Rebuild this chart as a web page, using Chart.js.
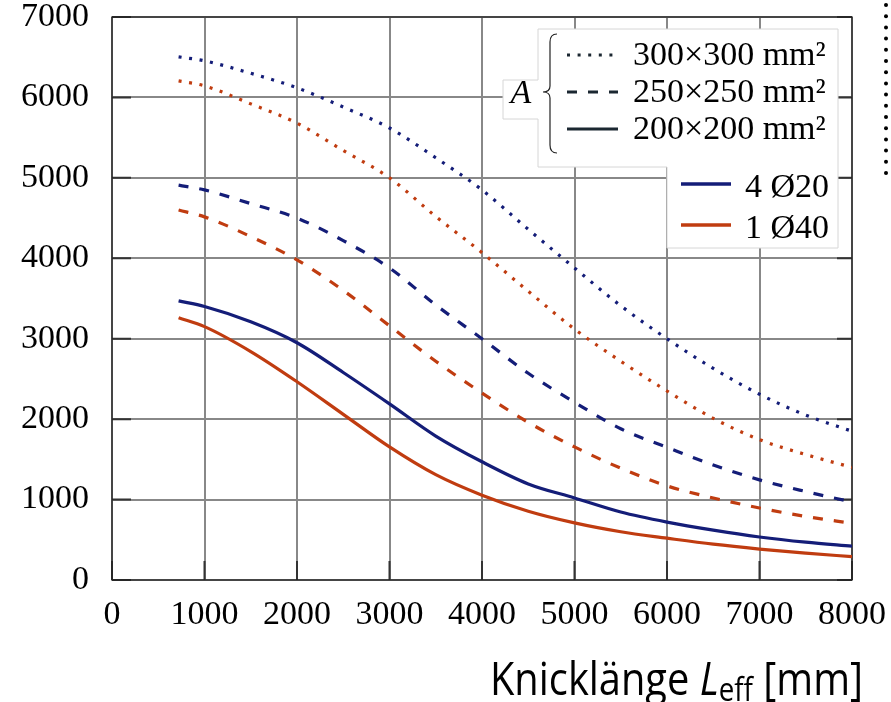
<!DOCTYPE html>
<html>
<head>
<meta charset="utf-8">
<script src="https://cdn.jsdelivr.net/npm/chart.js@4.4.1/dist/chart.umd.min.js"></script>
<style>
  html, body { margin: 0; padding: 0; background: #fff; }
  #wrap { width: 891px; height: 702px; }
</style>
</head>
<body>
<div id="wrap"><canvas id="chart" width="891" height="702"></canvas></div>
<script>
// Knicklänge (x-Achse)
const lengths = [720, 1000, 1500, 2000, 2500, 3000, 3500, 4000, 4500, 5000, 5500, 6000, 6500, 7000, 7500, 8000];

// Querschnitt 300x300
const a300_4d20 = [6505, 6455, 6300, 6120, 5880, 5620, 5250, 4850, 4360, 3880, 3410, 3000, 2630, 2310, 2050, 1850];
const a300_1d40 = [6206, 6144, 5920, 5680, 5340, 5000, 4520, 4070, 3590, 3120, 2720, 2350, 2010, 1745, 1560, 1400];
// Querschnitt 250x250
const a250_4d20 = [4910, 4850, 4680, 4500, 4220, 3880, 3420, 3000, 2570, 2210, 1880, 1650, 1430, 1245, 1100, 970];
const a250_1d40 = [4600, 4515, 4270, 3980, 3600, 3160, 2720, 2325, 1960, 1655, 1390, 1170, 1020, 895, 790, 705];
// Querschnitt 200x200
const a200_4d20 = [3470, 3400, 3210, 2950, 2580, 2190, 1790, 1470, 1195, 1020, 845, 720, 620, 535, 470, 420];
const a200_1d40 = [3260, 3150, 2840, 2465, 2060, 1655, 1310, 1055, 855, 710, 600, 520, 445, 385, 335, 290];

const areaLabels = ["300×300 mm²", "250×250 mm²", "200×200 mm²"];
const rebarLabels = ["4 Ø20", "1 Ø40"];
const xTitle = ["Knicklänge ", "L", "eff", " [mm]"];

const NAVY = "#141d78";
const RUST = "#c03c10";
const DARK = "#1b2731";
const DOT = [3, 7.6];
const DASH = [10, 11];
const serif = "'Liberation Serif', 'Times New Roman', serif";

function toPts(vals) {
  return vals.map((v, i) => ({ x: lengths[i], y: v }));
}

function line(vals, color, dash) {
  return {
    data: toPts(vals),
    borderColor: color,
    borderWidth: 3.2,
    borderDash: dash,
    borderCapStyle: "butt",
    showLine: true,
    pointRadius: 0,
    cubicInterpolationMode: "monotone",
    fill: false
  };
}

// Rahmen + innere Ticks
const framePlugin = {
  id: "frame",
  beforeDatasetsDraw(chart) {
    const { ctx, chartArea: a, scales } = chart;
    ctx.save();
    ctx.strokeStyle = "#333";
    ctx.lineWidth = 2;
    scales.x.ticks.forEach((t) => {
      const px = scales.x.getPixelForValue(t.value);
      ctx.beginPath();
      ctx.moveTo(px, a.bottom);
      ctx.lineTo(px, a.bottom - 19);
      ctx.stroke();
    });
    scales.y.ticks.forEach((t) => {
      const py = scales.y.getPixelForValue(t.value);
      ctx.beginPath();
      ctx.moveTo(a.left, py);
      ctx.lineTo(a.left + 19, py);
      ctx.moveTo(a.right, py);
      ctx.lineTo(a.right - 15, py);
      ctx.stroke();
    });
    ctx.strokeStyle = "#222";
    ctx.lineWidth = 1.3;
    ctx.strokeRect(a.left, a.top, a.right - a.left, a.bottom - a.top);
    ctx.restore();
  }
};

// Legende
const legendPlugin = {
  id: "customLegend",
  afterDatasetsDraw(chart) {
    const ctx = chart.ctx;
    ctx.save();
    ctx.beginPath();
    ctx.moveTo(538, 29);
    ctx.lineTo(838, 29);
    ctx.lineTo(838, 248);
    ctx.lineTo(667, 248);
    ctx.lineTo(667, 167);
    ctx.lineTo(538, 167);
    ctx.lineTo(538, 119);
    ctx.lineTo(503, 119);
    ctx.lineTo(503, 80);
    ctx.lineTo(538, 80);
    ctx.closePath();
    ctx.fillStyle = "#fff";
    ctx.fill();
    ctx.strokeStyle = "#d6d6d6";
    ctx.lineWidth = 1;
    ctx.stroke();

    // geschweifte Klammer
    ctx.beginPath();
    ctx.moveTo(557, 34);
    ctx.quadraticCurveTo(550, 34, 550, 42);
    ctx.lineTo(550, 86);
    ctx.quadraticCurveTo(550, 92, 543, 92);
    ctx.quadraticCurveTo(550, 92, 550, 98);
    ctx.lineTo(550, 145);
    ctx.quadraticCurveTo(550, 153, 557, 153);
    ctx.strokeStyle = "#222";
    ctx.lineWidth = 1.2;
    ctx.stroke();

    ctx.fillStyle = "#000";
    ctx.font = "italic 34px " + serif;
    ctx.textAlign = "center";
    ctx.textBaseline = "alphabetic";
    ctx.fillText("A", 521, 103);

    const rows = [55, 92, 129];
    const dashes = [DOT, DASH, []];
    ctx.font = "34px " + serif;
    ctx.textAlign = "left";
    rows.forEach((y, i) => {
      ctx.beginPath();
      ctx.setLineDash(dashes[i]);
      ctx.strokeStyle = DARK;
      ctx.lineWidth = 3.2;
      ctx.moveTo(567, y);
      ctx.lineTo(618, y);
      ctx.stroke();
      ctx.fillText(areaLabels[i], 633, y + 10);
    });
    ctx.setLineDash([]);
    [[184, NAVY], [225, RUST]].forEach(([y, c], i) => {
      ctx.beginPath();
      ctx.strokeStyle = c;
      ctx.lineWidth = 3.4;
      ctx.moveTo(681, y);
      ctx.lineTo(731, y);
      ctx.stroke();
      ctx.fillText(rebarLabels[i], 745, y + 13);
    });
    ctx.restore();
  }
};

// Achsentitel + Punktlinie am rechten Rand
const extrasPlugin = {
  id: "extras",
  afterDraw(chart) {
    const ctx = chart.ctx;
    ctx.save();
    const size = 46;
    const sub = 32;
    const fonts = [
      size + "px 'Open Sans', 'Noto Sans', sans-serif",
      "italic " + size + "px 'Open Sans', 'Noto Sans', sans-serif",
      sub + "px 'Open Sans', 'Noto Sans', sans-serif",
      size + "px 'Open Sans', 'Noto Sans', sans-serif"
    ];
    const widths = xTitle.map((s, i) => { ctx.font = fonts[i]; return ctx.measureText(s).width; });
    const total = widths.reduce((p, w) => p + w, 0);
    const target = 373;
    const k = target / total;
    ctx.translate(863 - target, 0);
    ctx.scale(k, 1);
    ctx.fillStyle = "#000";
    ctx.textBaseline = "alphabetic";
    let x = 0;
    xTitle.forEach((s, i) => {
      ctx.font = fonts[i];
      ctx.fillText(s, x, i === 2 ? 701 : 695);
      x += widths[i];
    });
    ctx.restore();

    ctx.save();
    ctx.fillStyle = "#000";
    for (let y = 5; y <= 184; y += 11.2) {
      ctx.beginPath();
      ctx.arc(886, y, 2, 0, Math.PI * 2);
      ctx.fill();
    }
    ctx.restore();
  }
};

const tickFont = { family: serif, size: 34, lineHeight: 1 };
const plain = (v) => String(v);

new Chart(document.getElementById("chart"), {
  type: "scatter",
  data: {
    datasets: [
      line(a300_4d20, NAVY, DOT),
      line(a300_1d40, RUST, DOT),
      line(a250_4d20, NAVY, DASH),
      line(a250_1d40, RUST, DASH),
      line(a200_4d20, NAVY, []),
      line(a200_1d40, RUST, [])
    ]
  },
  options: {
    responsive: false,
    animation: false,
    layout: { padding: { top: 17, right: 39, left: 0, bottom: 0 } },
    plugins: { legend: { display: false }, tooltip: { enabled: false } },
    scales: {
      x: {
        type: "linear",
        min: 0,
        max: 8000,
        ticks: { stepSize: 1000, font: tickFont, color: "#000", padding: 18, maxRotation: 0, callback: plain },
        grid: { color: "#888", lineWidth: 2, drawTicks: false },
        border: { display: false },
        afterFit(s) { s.height = 122; s.paddingLeft = 0; s.paddingRight = 0; }
      },
      y: {
        min: 0,
        max: 7000,
        ticks: { stepSize: 1000, font: tickFont, color: "#000", padding: 23, callback: plain },
        grid: { color: "#888", lineWidth: 2, drawTicks: false },
        border: { display: false },
        afterFit(s) { s.width = 112; s.paddingTop = 0; s.paddingBottom = 0; }
      }
    }
  },
  plugins: [framePlugin, legendPlugin, extrasPlugin]
});
</script>
</body>
</html>
